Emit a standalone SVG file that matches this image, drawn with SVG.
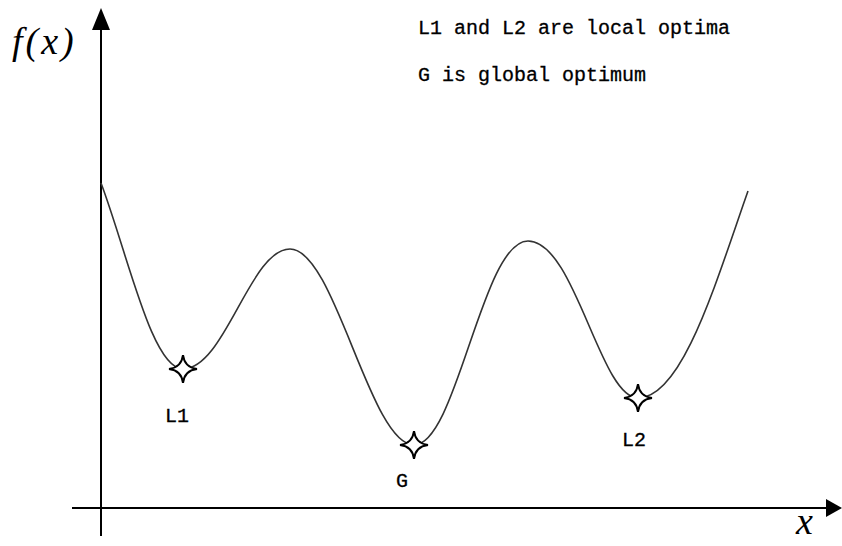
<svg xmlns="http://www.w3.org/2000/svg" width="842" height="546" viewBox="0 0 842 546">
<defs>
<style>
.axis{stroke:#000;stroke-width:2;fill:none}
.curve{stroke:#333;stroke-width:1.6;fill:none}
.star{fill:#fff;stroke:#000;stroke-width:2}
.mono{font-family:"Liberation Mono",monospace;font-size:20px;fill:#000;stroke:#000;stroke-width:0.3}
.math{font-family:"Liberation Serif",serif;font-style:italic;font-size:38px;fill:#000}
</style>
<path id="st" class="star" d="M0,-14 Q1.5,-1.5 14,0 Q1.5,1.5 0,14 Q-1.5,1.5 -14,0 Q-1.5,-1.5 0,-14 Z"/>
</defs>
<rect width="842" height="546" fill="#fff"/>
<g id="connectors">
<line class="axis" x1="101" y1="536" x2="101" y2="28"/>
<polygon points="101,8 92,30 110,30" fill="#000"/>
<line class="axis" x1="72" y1="508" x2="830" y2="508"/>
<polygon points="842,508 826,499 826,517" fill="#000"/>
<path class="curve" d="M101,183 C128,255 152,369 183,369 C225,369 250,249 290,249 C335,249 370,445 414,445 C457,445 482,241 528,241 C575,241 600,398 638,398 C682,398 715,285 748,191"/>
</g>
<g id="L1"><use href="#st" x="183" y="369"/><text class="mono" x="165" y="422">L1</text></g>
<g id="G"><use href="#st" x="414" y="445"/><text class="mono" x="396" y="487">G</text></g>
<g id="L2"><use href="#st" x="638" y="398"/><text class="mono" x="622" y="446">L2</text></g>
<g id="labels">
<text class="math" x="12" y="54" letter-spacing="3">f(x)</text>
<text class="math" x="796" y="534">x</text>
<text class="mono" x="418" y="34">L1 and L2 are local optima</text>
<text class="mono" x="418" y="81">G is global optimum</text>
</g>
</svg>
